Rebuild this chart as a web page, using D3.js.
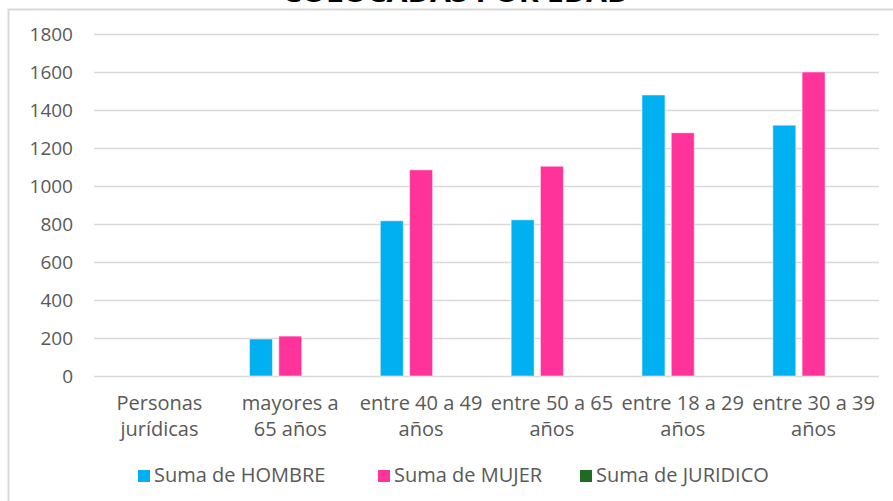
<!DOCTYPE html>
<html>
<head>
<meta charset="utf-8">
<script src="https://cdn.jsdelivr.net/npm/d3@7"></script>
<style>
  body { margin: 0; background: #fff; }
  text { font-family: "Open Sans", Roboto, sans-serif; fill: #595959; }
</style>
</head>
<body>
<div id="chart"></div>
<script>
// data
let categories = ['Personas jurídicas', 'mayores a 65 años', 'entre 40 a 49 años',
                  'entre 50 a 65 años', 'entre 18 a 29 años', 'entre 30 a 39 años'];
let labelLines = [['Personas', 'jurídicas'], ['mayores a', '65 años'], ['entre 40 a 49', 'años'],
                  ['entre 50 a 65', 'años'], ['entre 18 a 29', 'años'], ['entre 30 a 39', 'años']];
let series = ['Suma de HOMBRE', 'Suma de MUJER', 'Suma de JURIDICO'];
let hombre = [0, 195, 817, 822, 1479, 1320];
let mujer = [0, 210, 1085, 1104, 1280, 1600];
let juridico = [0, 0, 0, 0, 0, 0];
let yTicks = [0, 200, 400, 600, 800, 1000, 1200, 1400, 1600, 1800];
let title = 'COLOCADAS POR EDAD';

let values = [hombre, mujer, juridico];
let colors = ['#00B0F0', '#FF3399', '#1E6B24'];

let width = 893, height = 501;
let margin = {top: 34, right: 14, bottom: 125, left: 94};

let svg = d3.select('#chart').append('svg')
  .attr('width', width)
  .attr('height', height);

// frame
svg.append('rect')
  .attr('x', 8.5).attr('y', 9.5)
  .attr('width', 1000).attr('height', 1000)
  .attr('fill', 'none')
  .attr('stroke', '#d9d9d9')
  .attr('stroke-width', 2);

// title, cut off by the top edge as in the original
svg.append('text')
  .attr('x', 456).attr('y', 2)
  .attr('text-anchor', 'middle')
  .attr('textLength', 347)
  .attr('lengthAdjust', 'spacingAndGlyphs')
  .style('font-size', '27px')
  .style('font-weight', 'bold')
  .style('fill', '#000')
  .text(title);

let x = d3.scaleBand()
  .domain(categories)
  .range([margin.left, width - margin.right])
  .paddingInner(0.377)
  .paddingOuter(0.1885);

let xSub = d3.scaleBand()
  .domain(series)
  .range([0, x.bandwidth()])
  .paddingInner(0.215);

let y = d3.scaleLinear()
  .domain([0, 1800])
  .range([height - margin.bottom, margin.top]);

// grid
let yAxis = d3.axisLeft(y)
  .tickValues(yTicks)
  .tickFormat(d3.format('d'))
  .tickSize(-(width - margin.left - margin.right))
  .tickPadding(21);

let gy = svg.append('g')
  .attr('transform', `translate(${margin.left},0)`)
  .call(yAxis);
gy.select('.domain').remove();
gy.selectAll('line').attr('stroke', '#d9d9d9').attr('stroke-width', 1.6);
gy.selectAll('text')
  .style('font-family', '"Open Sans", sans-serif')
  .style('font-size', '19px')
  .style('fill', '#595959');

// bars
let groups = svg.selectAll('.grp')
  .data(categories)
  .enter().append('g')
  .attr('class', 'grp')
  .attr('transform', d => `translate(${x(d)},0)`);

groups.selectAll('rect')
  .data((d, i) => series.map((s, j) => ({s: s, v: values[j][i], c: colors[j]})))
  .enter().append('rect')
  .attr('x', d => xSub(d.s))
  .attr('y', d => y(d.v))
  .attr('width', xSub.bandwidth())
  .attr('height', d => y(0) - y(d.v))
  .attr('fill', d => d.c)
  .attr('stroke', d => d.v > 0 ? 'rgba(255,255,255,0.5)' : 'none')
  .attr('stroke-width', 1);

// x labels
let xl = svg.selectAll('.xl')
  .data(categories)
  .enter().append('text')
  .attr('class', 'xl')
  .attr('text-anchor', 'middle')
  .style('font-size', '20px')
  .attr('transform', d => `translate(${x(d) + x.bandwidth() / 2},410)`);

xl.selectAll('tspan')
  .data((d, i) => labelLines[i])
  .enter().append('tspan')
  .attr('x', 0)
  .attr('y', (d, i) => i * 26)
  .text(d => d);

// legend
let legendX = [138, 378, 580];
let legend = svg.selectAll('.legend')
  .data(series)
  .enter().append('g')
  .attr('class', 'legend')
  .attr('transform', (d, i) => `translate(${legendX[i]},470)`);

legend.append('rect')
  .attr('width', 12).attr('height', 12)
  .attr('fill', (d, i) => colors[i]);

legend.append('text')
  .attr('x', 16).attr('y', 12)
  .style('font-size', '20px')
  .text(d => d);
</script>
</body>
</html>
